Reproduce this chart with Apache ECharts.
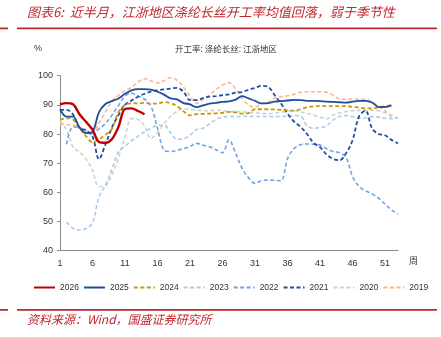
<!DOCTYPE html>
<html><head><meta charset="utf-8">
<script src="https://cdn.jsdelivr.net/npm/echarts@6/dist/echarts.min.js"></script>
<style>html,body{margin:0;padding:0;background:#fff}#c{width:441px;height:337px}</style>
</head><body><div id="c"></div>
<script>
var weeks = [];
for (var i = 1; i <= 53; i++) weeks.push(String(i));
var s2026 = [90.2,90.6,90.2,86.8,84.2,81.5,77.3,77.0,78.3,82.5,88.6,88.8,87.9,86.8];
var s2025 = [88.5,86.0,86.0,82.3,80.3,80.8,87.5,90.3,91.3,92.2,93.8,95.0,95.4,95.4,95.2,94.5,93.5,92.2,91.9,90.6,90.2,89.2,89.8,90.4,90.7,91.0,91.2,91.8,93.0,92.2,91.4,90.5,90.6,91.1,91.3,91.5,91.7,91.6,91.4,91.4,91.3,91.1,91.0,90.9,90.8,91.1,91.4,91.4,90.8,89.3,89.2,89.8];
var s2024 = [84.8,85.4,85.0,82.0,79.3,77.2,78.2,79.8,81.8,87.5,90.0,90.5,90.5,90.7,90.4,90.4,91.0,90.6,89.6,87.8,86.4,86.8,86.9,87.0,87.1,87.3,87.6,87.4,87.0,87.2,88.5,88.5,88.5,88.4,88.3,88.1,88.0,88.5,89.2,89.5,89.6,89.6,89.6,89.6,89.6,89.3,89.1,88.8,88.8,89.1,89.5,90.0];
var s2023 = [null,49.8,47.7,47.1,47.6,49.5,58.5,62.5,68.0,74.0,75.8,77.7,79.2,80.8,82.0,83.0,83.0,80.5,78.2,78.3,79.6,81.5,82.0,83.5,85.0,85.8,86.0,86.0,86.0,86.0,86.0,86.0,86.0,86.0,86.0,86.2,86.3,86.2,82.8,82.0,82.2,82.8,84.8,86.0,86.3,86.0,85.4,85.5,86.0,85.8,85.4,85.3,85.6];
var s2022 = [null,76.5,82.5,82.0,81.0,80.0,81.8,83.6,86.5,89.8,93.0,94.0,93.0,92.0,89.5,82.0,74.5,74.0,74.4,75.0,75.7,76.8,76.2,75.6,74.6,73.6,78.0,73.5,68.3,65.0,63.1,64.0,64.2,64.1,64.0,71.5,75.0,76.3,76.6,76.5,76.2,75.0,74.0,73.6,72.0,65.5,62.0,60.5,59.5,58.0,56.0,54.0,52.5];
var s2021 = [88.3,88.3,86.7,82.0,81.3,79.2,71.4,76.5,82.3,86.5,90.0,91.5,92.8,93.8,94.5,95.0,95.3,95.6,95.8,94.5,91.6,91.6,92.3,92.8,93.0,93.3,93.6,94.2,94.4,95.2,95.8,96.5,96.2,93.4,90.5,87.0,84.3,82.5,80.0,77.0,75.5,73.0,71.5,71.0,73.4,77.8,86.0,88.0,82.0,80.0,79.6,78.0,76.8];
var s2020 = [84.5,81.5,75.5,73.8,71.5,67.5,62.0,62.3,66.0,72.0,79.0,85.3,85.0,82.8,78.5,80.5,83.5,86.0,87.8,88.7,88.5,88.2,88.0,88.0,88.2,88.0,87.7,87.7,87.6,87.4,87.3,87.1,87.0,87.2,87.5,87.9,88.0,87.6,87.1,86.5,85.8,85.2,86.5,87.2,87.7,88.0,88.1,88.2,88.2,88.0,87.3,86.5,85.4];
var s2019 = [83.5,83.2,83.0,82.3,80.8,80.5,83.8,87.5,91.3,93.3,94.8,96.0,97.8,99.0,98.2,97.5,98.3,99.3,98.5,96.0,93.0,90.5,91.8,93.4,95.3,96.8,97.6,95.5,92.2,90.0,89.2,90.5,90.8,92.3,92.8,93.1,93.6,94.3,94.5,94.5,94.5,94.3,93.3,92.0,91.9,91.9,91.9,91.9,91.0,89.5,88.0,85.8];
var yTicks = [40,50,60,70,80,90,100];

var seriesDefs = [
  {name:'2026', data:s2026, color:'#C00000', width:2.4, dash:'solid', z:10},
  {name:'2025', data:s2025, color:'#1F4E9E', width:1.8, dash:'solid', z:9},
  {name:'2024', data:s2024, color:'#C79A0A', width:1.8, dash:[4,2.5], z:8},
  {name:'2023', data:s2023, color:'#A9CCEE', width:1.6, dash:[4,2.5], z:3},
  {name:'2022', data:s2022, color:'#6FA6DE', width:1.6, dash:[4,2.5], z:4},
  {name:'2021', data:s2021, color:'#1F4E9E', width:1.8, dash:[4,2.5], z:7},
  {name:'2020', data:s2020, color:'#D0D0D0', width:1.6, dash:[4,2.5], z:2},
  {name:'2019', data:s2019, color:'#F7B991', width:1.6, dash:[4,2.5], z:5}
];

var chart = echarts.init(document.getElementById('c'), null, {renderer:'canvas'});
var font = '"Noto Sans CJK SC", "Noto Sans", sans-serif';
var option = {
  animation:false,
  backgroundColor:'#fff',
  textStyle:{fontFamily:font},
  grid:{left:60, right:43, top:75.7, bottom:86.3, containLabel:false},
  legend:{
    left:33, top:283, padding:0, width:420, itemWidth:21, itemHeight:8, itemGap:4,
    itemStyle:{opacity:0},
    lineStyle:{opacity:1},
    textStyle:{fontSize:8.5, color:'#333', fontFamily:'"Liberation Sans", sans-serif'},
    data:seriesDefs.map(function(s){return s.name;})
  },
  xAxis:{
    type:'category', data:weeks, boundaryGap:false,
    axisLine:{show:true, lineStyle:{color:'#8c8c8c', width:1}},
    axisTick:{show:false},
    axisLabel:{interval:4, fontSize:9, color:'#333', margin:8, fontFamily:'"Liberation Sans", sans-serif'},
    splitLine:{show:false}
  },
  yAxis:{
    type:'value', min:yTicks[0], max:yTicks[yTicks.length-1], interval:10,
    axisLine:{show:true, lineStyle:{color:'#8c8c8c', width:1}},
    axisTick:{show:true, length:3, lineStyle:{color:'#8c8c8c'}},
    axisLabel:{fontSize:9, color:'#333', margin:7, fontFamily:'"Liberation Sans", sans-serif'},
    splitLine:{show:false}
  },
  series:seriesDefs.map(function(s){
    return {
      name:s.name, type:'line', data:s.data, smooth:0.35, showSymbol:false, symbol:'none',
      connectNulls:false, z:s.z,
      itemStyle:{color:s.color},
      lineStyle:{color:s.color, width:s.width, type:s.dash}
    };
  }),
  graphic:[
    {type:'text', left:27, top:6, style:{text:'图表6:  近半月，江浙地区涤纶长丝开工率均值回落，弱于季节性', fill:'#C0272D', font:'italic 13px "Noto Sans CJK SC", sans-serif'}},
    {type:'rect', shape:{x:17, y:27.5, width:420, height:1.8}, style:{fill:'#C0272D'}},
    {type:'rect', shape:{x:0, y:27.5, width:8, height:1.8}, style:{fill:'#C0272D'}},
    {type:'text', left:34, top:44, style:{text:'%', fill:'#333', font:'9px "Liberation Sans", sans-serif'}},
    {type:'text', left:175, top:45, style:{text:'开工率: 涤纶长丝: 江浙地区', fill:'#333', font:'8.5px "Noto Sans CJK SC", sans-serif'}},
    {type:'text', left:409, top:256, style:{text:'周', fill:'#333', font:'9px "Noto Sans CJK SC", sans-serif'}},
    {type:'rect', shape:{x:17, y:309, width:420, height:1.8}, style:{fill:'#C0272D'}},
    {type:'rect', shape:{x:0, y:309, width:8, height:1.8}, style:{fill:'#C0272D'}},
    {type:'text', left:27, top:313, style:{text:'资料来源：Wind，国盛证券研究所', fill:'#C0272D', font:'italic 12px "Noto Sans CJK SC", sans-serif'}}
  ]
};
chart.setOption(option);
</script></body></html>
